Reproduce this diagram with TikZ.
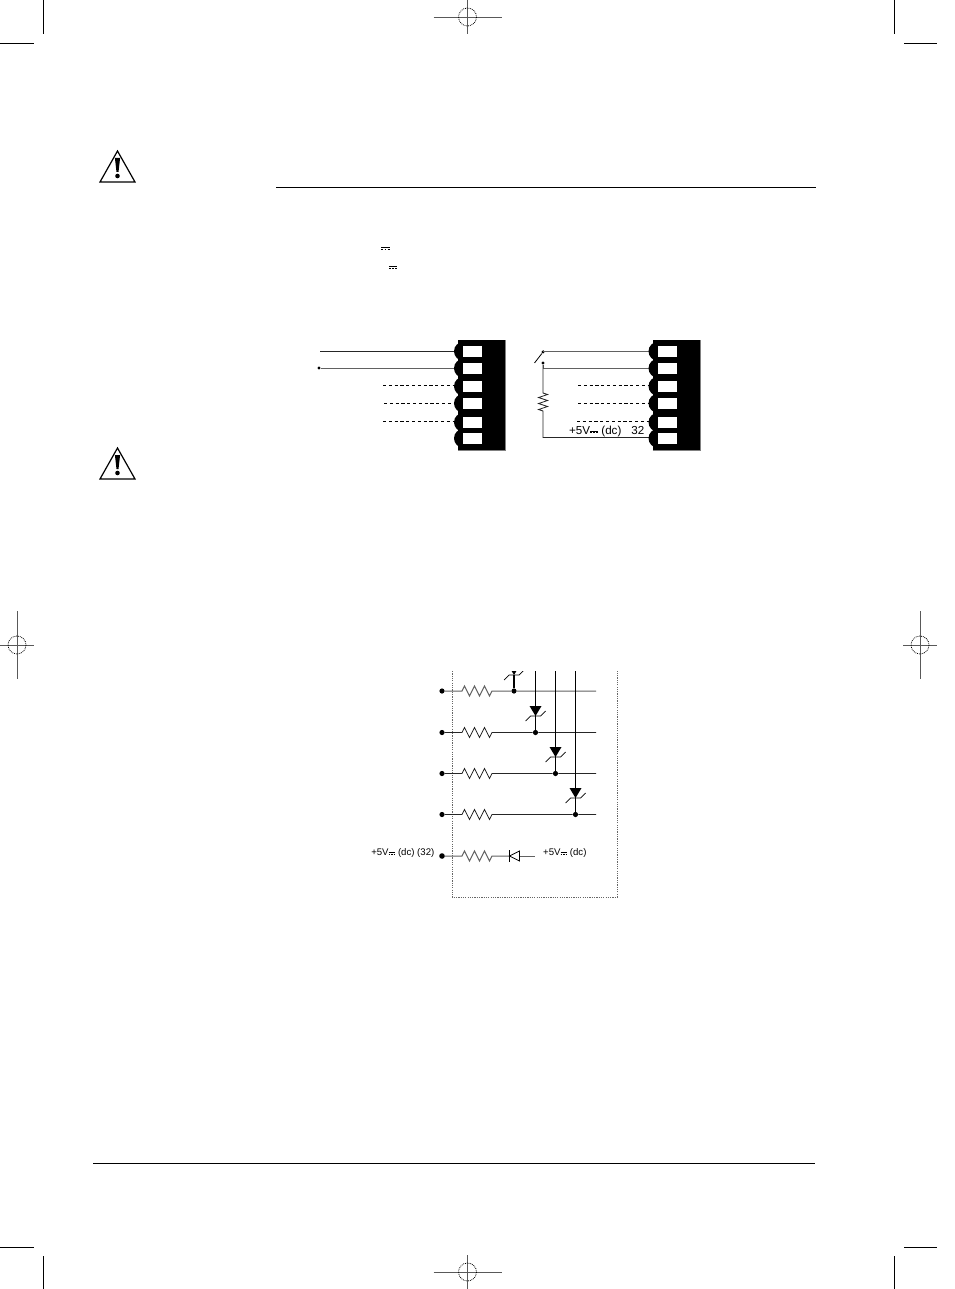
\documentclass[tikz,border=0pt]{standalone}
\usepackage{fontspec}
\setmainfont{Liberation Sans}
\usetikzlibrary{decorations.pathmorphing}

\newcommand{\dcmark}{\raisebox{.14em}{\vbox{\hrule width .7em height .5pt \kern .8pt
    \hbox to .7em{\vrule width .17em height .5pt\hfil\vrule width .17em height .5pt\hfil\vrule width .17em height .5pt}}}}
\newcommand{\regmark}[4]{
    \draw[regline] (#1-#3,#2) -- (#1+#3,#2);
    \draw[regline] (#1,#2-#4) -- (#1,#2+#4);
    \draw[regline,densely dotted,black] (#1,#2) circle (9);
}
\newcommand{\warnsign}[2]{
\begin{scope}[shift={(#1,#2)}]
    \draw[line width=1.2pt,line join=miter] (0,1) -- (17.5,32) -- (-17.5,32) -- cycle;
    \fill (-2.6,8) -- (2.6,8) -- (1,22) -- (-1,22) -- cycle;
    \fill (0,26) circle (2.3);
\end{scope}
}
\newcommand{\termblock}[2]{
\begin{scope}[xshift=#2]
    \fill (458,340) rectangle (505,450);
    \fill (463.5,351.3) circle (9.5);
    \fill (463.5,368.3) circle (9.5);
    \fill (463.5,386.3) circle (9.5);
    \fill (463.5,403.3) circle (9.5);
    \fill (463.5,422.3) circle (9.5);
    \fill (463.5,438.3) circle (9.5);
    \draw[gray] (458,450.5) -- (505.5,450.5) -- (505.5,340);
    \node[slot] (#1-1) at (472.5,351.3) {};
    \node[slot] (#1-2) at (472.5,368.3) {};
    \node[slot] (#1-3) at (472.5,386.3) {};
    \node[slot] (#1-4) at (472.5,403.3) {};
    \node[slot] (#1-5) at (472.5,422.3) {};
    \node[slot] (#1-6) at (472.5,438.3) {};
\end{scope}
}

\tikzset{
    x=1pt,y=-1pt,
    slot/.style={fill=white,inner sep=0pt,minimum width=19pt,minimum height=11pt},
    wire/.style={line width=.8pt,black!85},
    wirelight/.style={line width=1pt,black!62},
    dashwire/.style={line width=.8pt,dash pattern=on 3.2pt off 2.6pt},
    feed/.style={line width=1.1pt},
    term/.style={circle,fill,inner sep=0pt,minimum size=5.2pt},
    tinyterm/.style={circle,fill,inner sep=0pt,minimum size=3.4pt},
    crop/.style={line width=1pt},
    regline/.style={line width=.8pt,black!65},
    zig/.style={decoration={zigzag,segment length=10pt,amplitude=5pt}},
    ziglabel/.style={inner sep=0pt,font=\fontsize{9.6}{11}\selectfont},
    zener/.pic={
        \fill (-6,-10) -- (6,-10) -- (0,0) -- cycle;
        \draw[line width=.7pt] (-10,5) -- (-5,0) -- (5,0) -- (10,-5);
    },
}

\begin{document}
\begin{tikzpicture}
\useasboundingbox (0,0) rectangle (954,1289);
\fill[white] (0,0) rectangle (954,1289);

% trim marks
\draw[crop] (43.5,0) -- (43.5,34);
\draw[crop] (0,43.5) -- (34,43.5);
\draw[crop] (894.5,0) -- (894.5,34);
\draw[crop] (904,43.5) -- (937,43.5);
\draw[crop] (43.5,1256) -- (43.5,1289);
\draw[crop] (0,1247.5) -- (34,1247.5);
\draw[crop] (894.5,1256) -- (894.5,1289);
\draw[crop] (904,1247.5) -- (937,1247.5);
\regmark{467.5}{17}{34}{17}
\regmark{467.5}{1272}{34}{17}
\regmark{17}{645}{17}{34}
\regmark{920}{645}{17}{34}

% rules and warning signs
\draw[line width=1.2pt] (276,187.5) -- (816,187.5);
\draw[line width=1pt] (93,1163.5) -- (815,1163.5);
\warnsign{117.5}{150}
\warnsign{117.5}{447}
\node[inner sep=0pt,font=\fontsize{11.5}{13}\selectfont] (dcA) at (385.5,249) {\dcmark};
\node[inner sep=0pt,font=\fontsize{11.5}{13}\selectfont] (dcB) at (393,268) {\dcmark};

% left terminal block
\coordinate (la1) at (320,351.5);
\coordinate (la3) at (383,385.5);
\coordinate (la4) at (384,403.5);
\coordinate (la5) at (383,421.5);
\node[tinyterm] (la2) at (319,368) {};
\draw[wire] (la1) -- (458,351.5);
\draw[wirelight] (la2) -- (458,368);
\draw[dashwire] (la3) -- (455,385.5);
\draw[dashwire] (la4) -- (455,403.5);
\draw[dashwire] (la5) -- (455,421.5);
\termblock{lb}{0}

% right terminal block
\node[tinyterm] (sw1) at (543,352) {};
\node[tinyterm] (sw2) at (543,363) {};
\coordinate (sw0) at (534.5,363);
\coordinate (ra3) at (578,385.5);
\coordinate (ra4) at (578,403.5);
\coordinate (ra5) at (577,421.5);
\draw[wirelight] (sw1) -- (543,351) -- (650,351);
\draw[wirelight] (sw2) -- (543,368) -- (650,368);
\draw[line width=.8pt] (sw0) -- (sw1);
\draw[wire] (sw2) -- (543,393) decorate[decoration={zigzag,segment length=6pt,amplitude=4.5pt}] {-- (543,411)} -- (543,437.5) -- (650,437.5);
\draw[dashwire] (ra3) -- (649,385.5);
\draw[dashwire] (ra4) -- (649,403.5);
\draw[dashwire] (ra5) -- (649,421.5);
\termblock{rb}{194.5}
\node[anchor=east,inner sep=0pt,font=\fontsize{11.6}{13}\selectfont] (rl) at (644.5,431) {+5V\dcmark{} (dc)\hspace{10pt}32};

% protection circuit
\draw[black!60,dash pattern=on 1.2pt off 1.1pt,line width=.9pt] (452,671) -- (452,897) -- (617,897) -- (617,671);
\node[term] (p1) at (442,691) {};
\node[term] (p2) at (442,732.5) {};
\node[term] (p3) at (442,773.5) {};
\node[term] (p4) at (442,814.5) {};
\node[term,minimum size=5.6pt] (p5) at (442,856) {};
\node[term] (j1) at (514,691) {};
\node[term] (j2) at (535.5,732.5) {};
\node[term] (j3) at (555.5,773.5) {};
\node[term] (j4) at (575.5,814.5) {};
\coordinate (e1) at (596,691);
\coordinate (e2) at (596,732.5);
\coordinate (e3) at (596,773.5);
\coordinate (e4) at (596,814.5);
\coordinate (t2) at (535.5,671);
\coordinate (t3) at (555.5,671);
\coordinate (t4) at (575.5,671);
\coordinate (z1) at (514,675);
\draw[wirelight] (p1) -- (462,691) decorate[zig] {-- (493,691)} -- (j1) -- (e1);
\draw[wire] (p2) -- (462,732.5) decorate[zig] {-- (493,732.5)} -- (j2) -- (e2);
\draw[wire] (p3) -- (462,773.5) decorate[zig] {-- (493,773.5)} -- (j3) -- (e3);
\draw[wire] (p4) -- (462,814.5) decorate[zig] {-- (493,814.5)} -- (j4) -- (e4);
\draw[feed] (j1) -- (z1);
\draw[feed] (t2) -- (j2);
\draw[feed] (t3) -- (j3);
\draw[feed] (t4) -- (j4);
\begin{scope}
\clip (500,671) rectangle (530,690);
\pic at (514,675) {zener};
\end{scope}
\pic at (535.5,716) {zener};
\pic at (555.5,757) {zener};
\pic at (575.5,798) {zener};

% clamp diode row
\node[inner sep=0pt,minimum size=0pt] (dbar) at (509.5,856) {};
\coordinate (dend) at (535,856);
\draw[wirelight] (p5) -- (462,856) decorate[zig] {-- (493,856)} -- (dbar);
\draw[wirelight] (519,856) -- (dend);
\draw[line width=.7pt] (509.5,850) -- (509.5,862);
\draw[line width=.7pt,fill=white] (509.5,856) -- (519.5,851) -- (519.5,861) -- cycle;
\node[ziglabel,anchor=east] (l5a) at (434.5,853) {+5V\dcmark{} (dc) (32)};
\node[ziglabel,anchor=west] (l5b) at (543,853) {+5V\dcmark{} (dc)};
\end{tikzpicture}
\end{document}
